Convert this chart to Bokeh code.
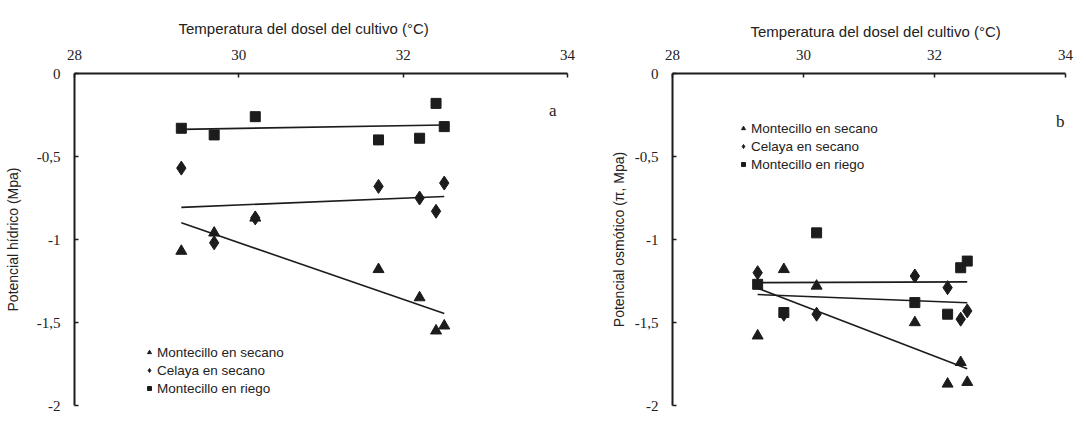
import numpy as np
from bokeh.plotting import figure
from bokeh.models import FixedTicker, Range1d, Legend, LegendItem, Label
from bokeh.layouts import row
from bokeh.embed import file_html
from bokeh.resources import INLINE

# ---- data ----
temps = [29.3, 29.7, 30.2, 31.7, 32.2, 32.4, 32.5]
series_names = ["Montecillo en secano", "Celaya en secano", "Montecillo en riego"]
series_markers = ["triangle", "diamond", "square"]

# panel a: potencial hídrico (MPa)
a_mont_secano = [-1.07, -0.96, -0.87, -1.18, -1.35, -1.55, -1.52]
a_celaya_secano = [-0.57, -1.02, -0.87, -0.68, -0.75, -0.83, -0.66]
a_mont_riego = [-0.33, -0.37, -0.26, -0.40, -0.39, -0.18, -0.32]

# panel b: potencial osmótico (MPa)
b_mont_secano = [-1.58, -1.18, -1.28, -1.50, -1.87, -1.74, -1.86]
b_celaya_secano = [-1.20, -1.45, -1.45, -1.22, -1.29, -1.48, -1.43]
b_mont_riego = [-1.27, -1.44, -0.96, -1.38, -1.45, -1.17, -1.13]

x_ticks = [28, 30, 32, 34]
y_ticks = [0, -0.5, -1, -1.5, -2]
y_tick_labels = ["0", "-0,5", "-1", "-1,5", "-2"]
x_title = "Temperatura del dosel del cultivo (°C)"

INK = "#1c1c1c"
SERIF = "Times New Roman, Liberation Serif, serif"
SANS = "Liberation Sans"
MARKER_SIZES = {"triangle": 11, "diamond": 14, "square": 10}


def make_panel(series, y_label, tag, tag_x, tag_y, width, bl, br, bt, bb,
               title_offset, title_standoff, ylab_standoff, leg_loc):
    p = figure(width=width, height=415, x_range=Range1d(28, 34), y_range=Range1d(-2, 0),
               x_axis_location="above", toolbar_location=None, output_backend="svg",
               min_border_left=bl, min_border_right=br, min_border_top=bt, min_border_bottom=bb)
    p.outline_line_color = None
    p.xgrid.grid_line_color = None
    p.ygrid.grid_line_color = None
    p.background_fill_color = "white"

    xa = p.xaxis[0]
    xa.ticker = FixedTicker(ticks=x_ticks)
    ya = p.yaxis[0]
    ya.ticker = FixedTicker(ticks=y_ticks)
    ya.major_label_overrides = {float(t): s for t, s in zip(y_ticks, y_tick_labels)}
    for ax in (xa, ya):
        ax.axis_line_width = 2
        ax.axis_line_color = INK
        ax.major_tick_in = 4
        ax.major_tick_out = 0
        ax.major_tick_line_color = INK
        ax.major_tick_line_width = 1.5
        ax.minor_tick_line_color = None
        ax.major_label_text_font = SERIF
        ax.major_label_text_font_size = "15px"
        ax.major_label_text_color = "#222222"
        ax.major_label_standoff = 14
    ya.axis_label = y_label
    ya.axis_label_text_font = SANS
    ya.axis_label_text_font_size = "14px"
    ya.axis_label_text_font_style = "normal"
    ya.axis_label_text_color = "#222222"
    ya.axis_label_standoff = ylab_standoff

    p.title.text = x_title
    p.title.align = "left"
    p.title.offset = title_offset
    p.title.standoff = title_standoff
    p.title.text_font = SANS
    p.title.text_font_size = "15px"
    p.title.text_font_style = "normal"
    p.title.text_color = "#222222"

    items = []
    for name, marker, ys in zip(series_names, series_markers, series):
        r = p.scatter(temps, ys, marker=marker, size=MARKER_SIZES[marker], color=INK)
        k, b = np.polyfit(temps, ys, 1)
        xs = np.array([min(temps), max(temps)])
        p.line(xs, k * xs + b, line_width=1.6, color=INK)
        items.append(LegendItem(label=name, renderers=[r]))

    leg = Legend(items=items, location=leg_loc, orientation="vertical",
                 glyph_width=10, glyph_height=18, label_height=18, label_standoff=3,
                 spacing=0, padding=0, margin=0, border_line_color=None,
                 background_fill_alpha=0, label_text_font=SANS,
                 label_text_font_size="13.5px", label_text_color="#222222")
    p.add_layout(leg)

    p.add_layout(Label(x=tag_x, y=tag_y, text=tag, text_font=SERIF,
                       text_font_size="17px", text_align="center", text_baseline="middle",
                       text_color="#222222"))
    return p


pa = make_panel([a_mont_secano, a_celaya_secano, a_mont_riego],
                "Potencial hídrico (Mpa)", "a", 33.82, -0.22,
                width=592, bl=74, br=25, bt=73, bb=10,
                title_offset=104, title_standoff=20, ylab_standoff=13, leg_loc=(70, 8))
pb = make_panel([b_mont_secano, b_celaya_secano, b_mont_riego],
                "Potencial osmótico (π, Mpa)", "b", 33.92, -0.29,
                width=484, bl=80, br=11, bt=72, bb=9,
                title_offset=78, title_standoff=13, ylab_standoff=5, leg_loc=(66, 232))

layout = row(pa, pb)
open("out.html", "w").write(file_html(layout, INLINE))
